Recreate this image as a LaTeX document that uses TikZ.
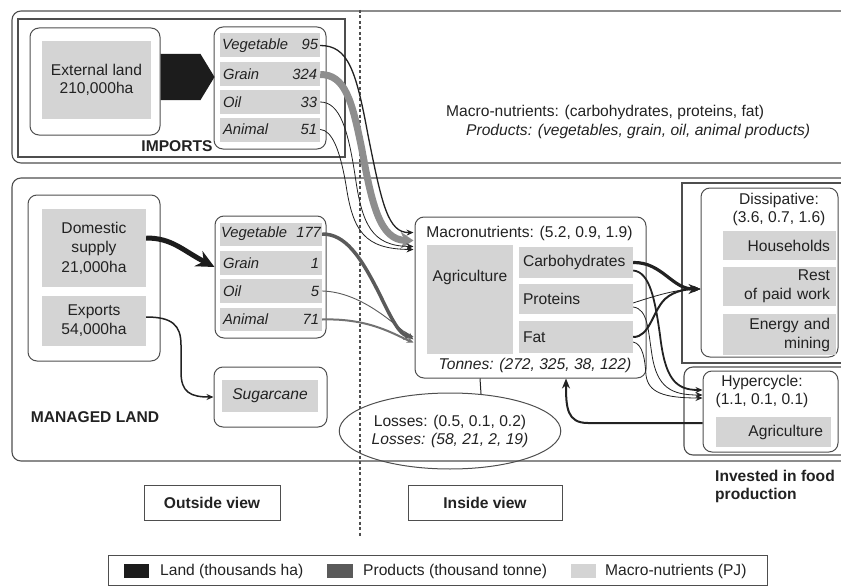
\documentclass[tikz,border=0pt]{standalone}
\usepackage{fontspec}
\setmainfont{Liberation Sans}
\usetikzlibrary{arrows.meta,calc,shapes.geometric}

\definecolor{framec}{HTML}{4E4E4E}
\definecolor{boxfill}{HTML}{D4D4D4}
\definecolor{landc}{HTML}{1C1C1C}
\definecolor{prodc}{HTML}{5A5A5A}
\definecolor{grainc}{HTML}{8E8E8E}
\definecolor{anic}{HTML}{727272}
\definecolor{inkc}{HTML}{222222}

% a product row: name on the left, amount on the right
\newcommand\prodrow[3][94pt]{\makebox[#1]{#2\hfill#3}}

\begin{document}
\begin{tikzpicture}[x=1pt,y=-1pt,
  every node/.style={font=\fontsize{15.6}{18}\selectfont, text=inkc, inner sep=0pt},
  boldtxt/.style={font=\fontsize{15.6}{18}\selectfont\bfseries},
  itxt/.style={font=\fontsize{15.6}{18}\selectfont\itshape},
  frame/.style={draw=framec, line width=1.1pt},
  rbox/.style={draw=framec, line width=1pt, rounded corners=9pt, inner sep=0pt},
  gbox/.style={fill=boxfill, inner sep=0pt},
  prow/.style={gbox, minimum height=24pt, minimum width=100pt, font=\fontsize{14.8}{17}\selectfont\itshape},
  conn/.style={draw=inkc, line width=0.8pt},
  tip/.style={-{Stealth[length=7pt,width=6pt]}},
  viewbox/.style={draw=framec, line width=1pt, boldtxt},
]
\useasboundingbox (0,0) rectangle (841,586);
\clip (0,0) rectangle (841,586);

% ---------- imports ----------
\draw[frame, rounded corners=9pt] (860,11) -- (12,11) -- (12,163) -- (860,163);
\draw[frame] (18,19) rectangle (345,157);

\node[rbox, minimum width=130pt, minimum height=107pt] (extout) at (95,81.5) {};
\node[gbox, minimum width=109pt, minimum height=78pt, align=center] (extl) at (96.5,80) {External land\\210,000ha};

\node[rbox, minimum width=112pt, minimum height=122pt] (impbox) at (270,88) {};
\node[prow] (iveg) at (270,45.5) {\prodrow[96pt]{Vegetable}{95}};
\node[prow] (igrain) at (270,74.5) {\prodrow{Grain}{324}};
\node[prow] (ioil) at (270,102) {\prodrow{Oil}{33}};
\node[prow] (iani) at (270,129.5) {\prodrow{Animal}{51}};

\coordinate (landtip) at ($(impbox.west)+(1,-11)$);
\fill[landc] ($(extout.east)+(0,-27.5)$) -- ++(40,0) -- (landtip) -- ($(extout.east)+(40,18.5)$) -- ($(extout.east)+(0,18.5)$) -- cycle;

\node[boldtxt] (implabel) at (177,146) {IMPORTS};

\node[anchor=west] (mnkey) at (446,112) {Macro-nutrients: (carbohydrates, proteins, fat)};
\node[anchor=west, itxt] (prkey) at (466,131) {Products: (vegetables, grain, oil, animal products)};

% ---------- managed land ----------
\draw[frame, rounded corners=9pt] (860,178) -- (12,178) -- (12,461) -- (860,461);

\node[rbox, minimum width=132pt, minimum height=166pt] (domout) at (94,278) {};
\node[gbox, minimum width=104pt, minimum height=78pt, align=center, font=\fontsize{15.6}{19.5}\selectfont] (dom) at (94,248) {Domestic\\supply\\21,000ha};
\node[gbox, minimum width=104pt, minimum height=50pt, align=center, font=\fontsize{15.6}{19}\selectfont] (exp) at (94,321) {Exports\\54,000ha};

\node[rbox, minimum width=111pt, minimum height=122pt] (dprod) at (270.5,277) {};
\node[prow, minimum width=102pt, minimum height=23pt] (dveg) at (271,234) {\prodrow[100pt]{Vegetable}{177}};
\node[prow, minimum width=102pt] (dgrain) at (271,263) {\prodrow[96pt]{Grain}{1}};
\node[prow, minimum width=102pt] (doil) at (271,291) {\prodrow[96pt]{Oil}{5}};
\node[prow, minimum width=102pt, minimum height=23pt] (dani) at (271,319.5) {\prodrow[96pt]{Animal}{71}};

\node[rbox, minimum width=113pt, minimum height=60pt] (sugout) at (270.5,397) {};
\node[gbox, minimum width=96pt, minimum height=32pt, itxt] (sug) at (270,396) {Sugarcane};

\node[boldtxt] (mland) at (95,417) {MANAGED LAND};

\draw[landc, line width=5pt, -{Stealth[length=18pt,width=17pt]}] ($(dom.east)+(0,-10)$) .. controls (172,238) and (182,250) .. ($(dprod.west)+(0,-10)$);
\draw[conn, line width=1.5pt, tip] ($(exp.east)+(0,-4)$) .. controls (172,317) and (181,325) .. (181,345) -- (181,372) .. controls (181,392) and (190,397) .. (sugout.west);

% ---------- macronutrients ----------
\node[rbox, minimum width=231pt, minimum height=161pt] (mac) at (530.5,297.5) {};
\node (mactitle) at (529.5,233) {Macronutrients: (5.2, 0.9, 1.9)};
\node[gbox, minimum width=86pt, minimum height=109pt] (agri) at (470,299.5) {};
\node (agrit) at ($(agri.north)+(0,33)$) {Agriculture};
\node[gbox, minimum width=114pt, minimum height=31pt, text width=106pt, align=left] (carb) at (576,262.5) {Carbohydrates};
\node[gbox, minimum width=114pt, minimum height=30pt, text width=106pt, align=left] (prot) at (576,299) {Proteins};
\node[gbox, minimum width=114pt, minimum height=32pt, text width=106pt, align=left] (fat) at (576,337) {Fat};
\node[itxt] (tonnes) at (535,365) {Tonnes: (272, 325, 38, 122)};

% ---------- dissipative ----------
\draw[frame] (860,183) -- (682,183) -- (682,363) -- (860,363);
\node[rbox, minimum width=137pt, minimum height=169pt] (disbox) at (769.5,272.5) {};
\node[align=center] (distitle) at (779,209) {Dissipative:\\(3.6, 0.7, 1.6)};
\node[gbox, minimum width=113pt, minimum height=29pt, text width=101pt, align=right] (hh) at (779.5,245.5) {Households};
\node[gbox, minimum width=113pt, minimum height=39pt, text width=101pt, align=right, font=\fontsize{15.6}{19}\selectfont] (rest) at (779.5,286.5) {Rest\\of paid work};
\node[gbox, minimum width=113pt, minimum height=41pt, text width=101pt, align=right, font=\fontsize{15.6}{19}\selectfont] (energy) at (779.5,334.5) {Energy and\\mining};

% ---------- hypercycle ----------
\draw[frame, rounded corners=9pt] (860,367) -- (684,367) -- (684,455) -- (860,455);
\node[rbox, minimum width=135pt, minimum height=81pt] (hypbox) at (770.5,411.5) {};
\node[align=center] (hyptitle) at (762,391) {Hypercycle:\\(1.1, 0.1, 0.1)};
\node[gbox, minimum width=115pt, minimum height=30pt, text width=99pt, align=right] (hagri) at (773.5,432) {Agriculture};

% ---------- losses ----------
\node[ellipse, draw=framec, line width=1pt, minimum width=184pt, minimum height=76pt, inner sep=0pt, align=center] (loss) at (450,431) {Losses: (0.5, 0.1, 0.2)\\\textit{Losses: (58, 21, 2, 19)}};
\draw[conn, line width=1pt] ($(mac.south)+(-50.5,0)$) -- (loss.50);

% ---------- view labels ----------
\draw[framec, line width=1.3pt, dash pattern=on 3pt off 2.5pt] (360,10) -- (360,537);
\node[viewbox, minimum width=136pt, minimum height=35pt] (outv) at (212,502.5) {Outside view};
\node[viewbox, minimum width=154pt, minimum height=35pt] (inv) at (485,502.5) {Inside view};
\node[boldtxt, align=left, anchor=west] (invest) at (715,486) {Invested in food\\production};

% ---------- legend ----------
\node[draw=framec, line width=1pt, minimum width=659pt, minimum height=30pt] (legend) at (437.5,570) {};
\node[fill=landc, minimum width=25pt, minimum height=14pt] (lgland) at (136.5,571) {};
\node[anchor=west] (lgtland) at (160,571) {Land (thousands ha)};
\node[fill=prodc, minimum width=26pt, minimum height=14pt] (lgprod) at (340,571) {};
\node[anchor=west] (lgtprod) at (363,571) {Products (thousand tonne)};
\node[fill=boxfill, minimum width=25pt, minimum height=14pt] (lgmac) at (583.5,571) {};
\node[anchor=west] (lgtmac) at (605,571) {Macro-nutrients (PJ)};

% ---------- flows into the macronutrient box ----------
\coordinate (in1) at ($(mac.north west)+(-1,16)$);
\coordinate (in2) at ($(mac.north west)+(-1,24)$);
\coordinate (in3) at ($(mac.north west)+(-1,30)$);
\coordinate (in4) at ($(mac.north west)+(-1,33)$);
\coordinate (in5) at ($(mac.north west)+(-1,120)$);
\coordinate (in6) at ($(mac.north west)+(-1,123)$);
\coordinate (in7) at ($(mac.north west)+(-1,126)$);

\draw[conn, line width=1.3pt, tip] (iveg.east) .. controls (348,45.5) and (356,70) .. (368,135) .. controls (382,205) and (388,233) .. (in1);
\draw[draw=grainc, line width=7pt, -{Stealth[length=13pt,width=17pt]}] (igrain.east) .. controls (345,74.5) and (352,100) .. (362,150) .. controls (372,205) and (380,240) .. (in2);
\draw[conn, tip] (ioil.east) .. controls (340,102) and (348,130) .. (355,175) .. controls (362,225) and (372,246) .. (in3);
\draw[conn, tip] (iani.east) .. controls (332,130) and (340,150) .. (346,185) .. controls (353,232) and (365,249) .. (in4);

\draw[draw=prodc, line width=3.5pt, -{Stealth[length=10pt,width=9pt]}] (dveg.east) .. controls (345,234) and (360,255) .. (380,295) .. controls (392,320) and (400,335) .. (in5);
\draw[draw=prodc, line width=0.9pt, tip] (doil.east) .. controls (360,292) and (392,322) .. (in6);
\draw[draw=anic, line width=2pt, tip] (dani.east) .. controls (370,318) and (395,335) .. (in7);

% ---------- flows out of the macronutrient box ----------
\coordinate (dtip) at ($(disbox.west)+(0,16.5)$);
\coordinate (htip1) at ($(hypbox.west)+(0,-21.5)$);
\coordinate (htip2) at ($(hypbox.west)+(0,-16.5)$);
\coordinate (htip3) at ($(hypbox.west)+(0,-13.5)$);

\draw[conn, line width=3.2pt, -{Stealth[length=12pt,width=10pt]}] (carb.east) .. controls (662,262) and (672,289) .. (dtip);
\draw[conn, line width=1.8pt, tip] ($(carb.east)+(0,8)$) .. controls (650,272) and (655,300) .. (660,335) .. controls (665,378) and (675,390) .. (htip1);
\draw[conn, tip] ($(prot.east)+(0,4)$) .. controls (660,294) and (680,289) .. (dtip);
\draw[conn, tip] ($(prot.east)+(0,8)$) .. controls (648,309) and (648,330) .. (652,355) .. controls (657,388) and (672,395) .. (htip2);
\draw[conn, line width=2pt, tip] (fat.east) .. controls (650,337) and (652,312) .. (665,299) .. controls (675,290) and (688,289) .. (dtip);
\draw[conn, tip] ($(fat.east)+(0,5)$) .. controls (643,344) and (645,360) .. (646,375) .. controls (648,393) and (665,398) .. (htip3);

% ---------- reinvestment loop ----------
\draw[conn, line width=2pt, -{Stealth[length=10pt,width=8pt]}] ($(hypbox.west)+(0,11.5)$) -- (588,423) .. controls (567,423) and (566,408) .. ($(mac.south)+(35.5,0)$);

\end{tikzpicture}
\end{document}
